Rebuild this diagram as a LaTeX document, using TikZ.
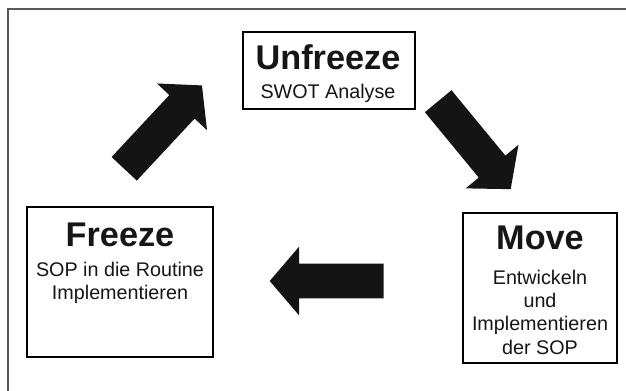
\documentclass[tikz,border=0pt]{standalone}
\usepackage{fontspec}
\setmainfont{Liberation Sans}
\usepackage{xcolor}
\definecolor{framegray}{RGB}{88,88,88}
\definecolor{arrowblack}{RGB}{20,20,20}
\definecolor{textblack}{RGB}{22,22,22}
\usetikzlibrary{shapes.arrows}

\begin{document}
\begin{tikzpicture}[x=0.75pt,y=0.75pt,
phase/.style={draw=black,line width=1.6pt,fill=white,inner sep=0pt},
title/.style={font=\fontsize{25.7}{30}\selectfont\bfseries,text=textblack,anchor=base,inner sep=0pt},
body/.style={font=\fontsize{14.8}{17.5}\selectfont,text=textblack,align=center,anchor=base,inner sep=0pt},
bigarrow/.style={single arrow,fill=arrowblack,inner sep=0pt,text height=12.75pt,text depth=12.75pt,minimum height=85.5pt,single arrow head extend=12.75pt,single arrow tip angle=99,anchor=tail}]
\useasboundingbox (0,0) rectangle (626,390);
\draw[framegray,line width=1.5pt] (7.5,-10) -- (7.5,381) -- (640,381);
\node[phase,minimum width=129pt,minimum height=57.75pt] (unfreeze) at (329,319.5) {};
\node[phase,minimum width=139.5pt,minimum height=112.5pt] (freeze) at (120,108) {};
\node[phase,minimum width=115.5pt,minimum height=112.5pt] (move) at (540,102) {};
\node[title] (unfreezeT) at (328,320) {Unfreeze};
\node[body] (unfreezeB) at (328,291) {SWOT Analyse};
\node[title] (freezeT) at (120,143) {Freeze};
\node[body] (freezeB) at (120,90.5) {SOP in die Routine\\Implementieren};
\node[title] (moveT) at (540,141) {Move};
\node[body] (moveB) at (540,36) {Entwickeln\\und\\Implementieren\\der SOP};
\node[bigarrow,rotate=47] (toUnfreeze) at (124,221) {};
\node[bigarrow,rotate=-50.5] (toMove) at (438,289) {};
\node[bigarrow,rotate=180] (toFreeze) at (384,109) {};
\end{tikzpicture}
\end{document}
